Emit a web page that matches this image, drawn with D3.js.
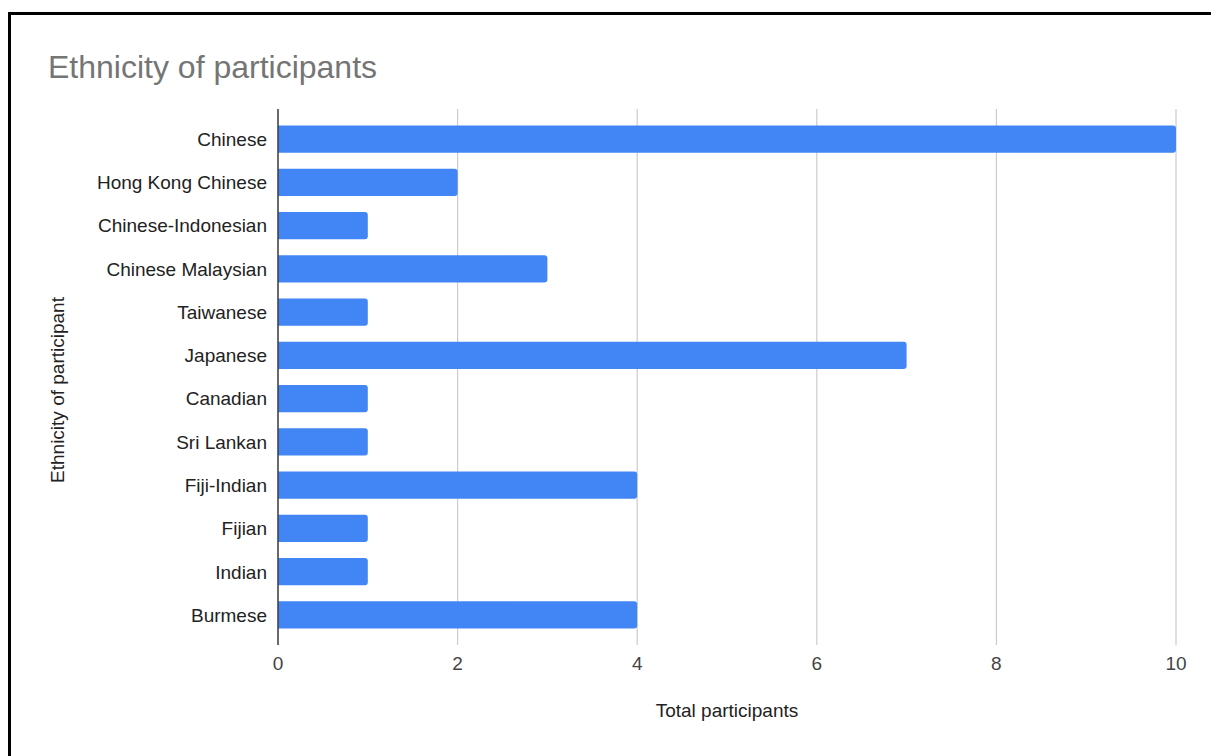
<!DOCTYPE html>
<html>
<head>
<meta charset="utf-8">
<script src="https://cdn.jsdelivr.net/npm/d3@7"></script>
<style>
  html, body { margin: 0; padding: 0; background: #fff; }
  svg { display: block; }
</style>
</head>
<body>
<svg id="chart" width="1211" height="756"></svg>
<script>
// Participants per ethnicity
const categories = [
  "Chinese", "Hong Kong Chinese", "Chinese-Indonesian", "Chinese Malaysian",
  "Taiwanese", "Japanese", "Canadian", "Sri Lankan", "Fiji-Indian",
  "Fijian", "Indian", "Burmese"
];
const totals = [10, 2, 1, 3, 1, 7, 1, 1, 4, 1, 1, 4];
const xTicks = [0, 2, 4, 6, 8, 10];

const titleText = "Ethnicity of participants";
const xTitle = "Total participants";
const yTitle = "Ethnicity of participant";

const svg = d3.select("#chart");
const font = "'Liberation Sans', Arial, sans-serif";

// frame around the chart card
svg.append("rect")
  .attr("x", 9.5).attr("y", 13.5)
  .attr("width", 1300).attr("height", 900)
  .attr("fill", "#fff")
  .attr("stroke", "#000").attr("stroke-width", 3);

const plot = { left: 278, right: 1176, top: 109, bottom: 645 };

const x = d3.scaleLinear().domain([0, 10]).range([plot.left, plot.right]);
const y = d3.scaleBand()
  .domain(categories)
  .range([117.4, 636.6])
  .paddingInner(0.37)
  .paddingOuter(0.185);

// vertical gridlines
svg.append("g")
  .selectAll("line")
  .data(xTicks.filter(d => d !== 0))
  .join("line")
  .attr("x1", d => x(d)).attr("x2", d => x(d))
  .attr("y1", plot.top).attr("y2", plot.bottom)
  .attr("stroke", "#cccccc").attr("stroke-width", 1.2);

// bars: square on the baseline, rounded at the value end
const r = 3;
svg.append("g")
  .selectAll("path")
  .data(categories.map((c, i) => ({ c, v: totals[i] })))
  .join("path")
  .attr("fill", "#4285f4")
  .attr("d", d => {
    const x0 = x(0), x1 = x(d.v), y0 = y(d.c), h = y.bandwidth();
    return `M${x0},${y0}H${x1 - r}Q${x1},${y0} ${x1},${y0 + r}` +
           `V${y0 + h - r}Q${x1},${y0 + h} ${x1 - r},${y0 + h}H${x0}Z`;
  });

// baseline axis
svg.append("line")
  .attr("x1", x(0)).attr("x2", x(0))
  .attr("y1", plot.top).attr("y2", plot.bottom)
  .attr("stroke", "#444").attr("stroke-width", 1.6);

// x tick labels
svg.append("g")
  .selectAll("text")
  .data(xTicks)
  .join("text")
  .attr("x", d => x(d)).attr("y", 670)
  .attr("text-anchor", "middle")
  .attr("font-family", font).attr("font-size", 19)
  .attr("fill", "#444")
  .text(d => d);

// category labels
svg.append("g")
  .selectAll("text")
  .data(categories)
  .join("text")
  .attr("x", 267)
  .attr("y", d => y(d) + y.bandwidth() / 2)
  .attr("dy", "0.36em")
  .attr("text-anchor", "end")
  .attr("font-family", font).attr("font-size", 19)
  .attr("fill", "#222")
  .text(d => d);

// title
svg.append("text")
  .attr("x", 48).attr("y", 78)
  .attr("font-family", font).attr("font-size", 32)
  .attr("fill", "#757575")
  .text(titleText);

// axis titles
svg.append("text")
  .attr("x", (plot.left + plot.right) / 2 - 0).attr("y", 717)
  .attr("text-anchor", "middle")
  .attr("font-family", font).attr("font-size", 19)
  .attr("fill", "#222")
  .text(xTitle);

svg.append("text")
  .attr("transform", "translate(64,390) rotate(-90)")
  .attr("text-anchor", "middle")
  .attr("font-family", font).attr("font-size", 19)
  .attr("fill", "#222")
  .text(yTitle);
</script>
</body>
</html>
